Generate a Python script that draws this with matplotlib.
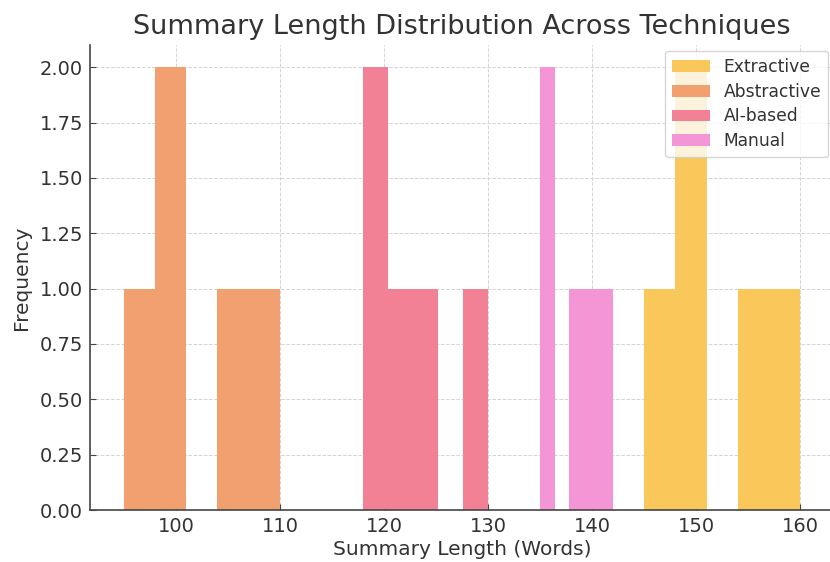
import matplotlib
matplotlib.use("Agg")
import matplotlib.pyplot as plt

techniques = ["Extractive", "Abstractive", "AI-based", "Manual"]
extractive = [145, 150, 150, 155, 160]
abstractive = [95, 100, 100, 105, 110]
ai_based = [118, 120, 122, 125, 130]
manual = [135, 135, 138, 140, 142]
series = [extractive, abstractive, ai_based, manual]
colors = ["#F9C75A", "#F2A070", "#F28196", "#F495D6"]

fig = plt.figure(figsize=(8.3, 5.62), dpi=100)
ax = fig.add_axes([90/830, 1 - 510/562, (834 - 90)/830, (510 - 45)/562])

for data, name, c in zip(series, techniques, colors):
    ax.hist(data, bins=5, color=c, label=name, zorder=2)

ax.set_ylim(0, 2.1)
ax.set_yticks([0, 0.25, 0.5, 0.75, 1.0, 1.25, 1.5, 1.75, 2.0])
ax.set_yticklabels([f"{v:.2f}" for v in ax.get_yticks()])
ax.set_xticks([100, 110, 120, 130, 140, 150, 160])

ax.grid(True, linestyle="--", color="#d4d4d4", linewidth=0.7, zorder=0)
ax.set_axisbelow(True)
for s in ["top", "right"]:
    ax.spines[s].set_visible(False)
for s in ["left", "bottom"]:
    ax.spines[s].set_color("#444444")
    ax.spines[s].set_linewidth(1.2)
ax.tick_params(direction="in", length=4, color="#444444", labelsize=14,
               labelcolor="#333333", pad=5)

ax.set_title("Summary Length Distribution Across Techniques", fontsize=19.5,
             color="#333333", pad=8)
ax.set_xlabel("Summary Length (Words)", fontsize=14.5, color="#333333", labelpad=3)
ax.set_ylabel("Frequency", fontsize=14.5, color="#333333", labelpad=6)

leg = ax.legend(loc="upper right", fontsize=12.3, framealpha=0.8,
                edgecolor="#cccccc", borderaxespad=0.35, handlelength=2.2,
                labelspacing=0.4)
for t in leg.get_texts():
    t.set_color("#333333")

fig.savefig("out.png", dpi=100)
